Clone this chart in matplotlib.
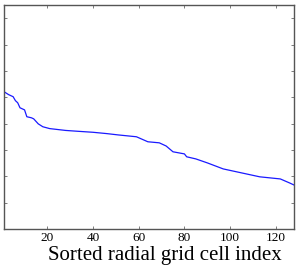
import numpy as np
import matplotlib
matplotlib.use('Agg')
import matplotlib.pyplot as plt

# values (sorted, decreasing)
cell_index = [1, 3, 5, 6, 7, 8, 10, 11, 13, 14, 16, 18, 21, 28, 33, 40, 46,
              51, 59, 64, 69, 72, 75, 80, 81, 85, 90, 97, 105, 113, 122, 126, 128]
values = [5.21, 5.10, 5.02, 4.87, 4.79, 4.60, 4.52, 4.26, 4.22, 4.18, 3.99,
          3.88, 3.81, 3.74, 3.71, 3.67, 3.62, 3.57, 3.50, 3.31, 3.27, 3.15,
          2.93, 2.85, 2.74, 2.66, 2.51, 2.28, 2.13, 1.98, 1.90, 1.75, 1.67]
x_ticks = [20, 40, 60, 80, 100, 120]
y_ticks = [0, 1, 2, 3, 4, 5, 6, 7, 8]

plt.rcParams['font.family'] = ['Liberation Serif', 'DejaVu Serif']

fig = plt.figure(figsize=(3.0, 2.67), dpi=100)
ax = fig.add_axes([4 / 300, 1 - 229 / 267, 290 / 300, 224 / 267])

ax.plot(cell_index, values, color='#1a1aff', lw=0.9)

ax.set_xlim(1, 128)
ax.set_ylim(0, 8.5)
ax.set_xticks(x_ticks)
ax.set_yticks(y_ticks)
ax.set_yticklabels([])
ax.tick_params(direction='in', length=2.5, width=0.6, color='#666666',
               top=True, right=True, labelsize=9.5, pad=2)
for s in ax.spines.values():
    s.set_color('#555555')
    s.set_linewidth(1.0)

ax.set_xlabel('Sorted radial grid cell index', fontsize=15)
ax.xaxis.set_label_coords(0.555, -0.075, transform=ax.transAxes)
ax.xaxis.label.set_va('top')

fig.savefig('out.png', dpi=100)
